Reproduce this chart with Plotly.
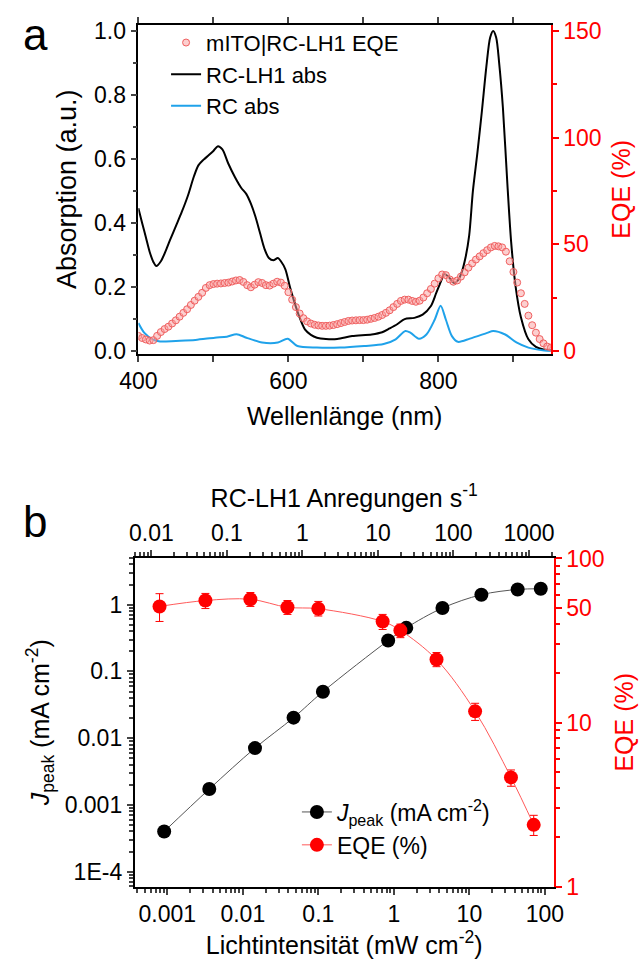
import plotly.graph_objects as go

# ---------------- Panel a data ----------------
abs_nm = [400, 405, 410, 415, 420, 424, 430, 436, 442, 450, 458, 466, 474, 480, 487, 494, 500, 506, 512,
          520, 529, 537, 544, 550, 556, 562, 568, 574, 580, 586, 590, 596, 602, 607, 614, 622, 630, 638,
          650, 665, 685, 711, 725, 735, 745, 755, 768, 779, 790, 797, 803, 808, 814, 821, 826, 831,
          836, 841, 846, 852, 858, 864, 869, 873, 877, 881, 886, 892, 897, 903, 910, 920, 930, 940, 950]
rclh1_abs = [0.446, 0.40, 0.355, 0.31, 0.278, 0.265, 0.28, 0.31, 0.345, 0.39, 0.435, 0.485, 0.545,
             0.58, 0.598, 0.612, 0.625, 0.64, 0.63, 0.585, 0.542, 0.51, 0.49, 0.46, 0.42, 0.37, 0.32,
             0.29, 0.283, 0.29, 0.28, 0.255, 0.20, 0.16, 0.11, 0.067, 0.05, 0.041, 0.037, 0.037,
             0.046, 0.051, 0.058, 0.07, 0.083, 0.099, 0.103, 0.113, 0.14, 0.18, 0.215, 0.24, 0.23,
             0.212, 0.22, 0.245, 0.29, 0.36, 0.50, 0.62, 0.75, 0.89, 0.98, 1.0, 0.98, 0.90, 0.76,
             0.52, 0.34, 0.20, 0.105, 0.036, 0.012, 0.004, 0.002]

rc_nm = [400, 408, 419, 429, 450, 476, 502, 518, 531, 544, 565, 586, 599, 612, 638, 669, 701, 727,
         743, 756, 763, 774, 784, 795, 803, 810, 818, 826, 842, 865, 873, 889, 904, 920, 941, 950]
rc_abs = [0.087, 0.056, 0.036, 0.029, 0.031, 0.034, 0.041, 0.044, 0.052, 0.041, 0.026, 0.026, 0.038,
          0.015, 0.010, 0.010, 0.015, 0.021, 0.036, 0.062, 0.056, 0.038, 0.051, 0.097, 0.141, 0.097,
          0.046, 0.028, 0.038, 0.056, 0.062, 0.051, 0.026, 0.010, 0.001, 0.0]

eqe_nm = [400, 405, 410, 415, 420, 425, 430, 435, 440, 445, 450, 455, 460, 465, 470, 475, 480, 485,
          490, 495, 500, 505, 510, 515, 520, 525, 530, 535, 540, 545, 550, 555, 560, 565, 570, 575,
          580, 585, 590, 595, 600, 605, 610, 615, 620, 625, 630, 635, 640, 645, 650, 655, 660, 665,
          670, 675, 680, 685, 690, 695, 700, 705, 710, 715, 720, 725, 730, 735, 740, 745, 750, 755,
          760, 765, 770, 775, 780, 785, 790, 795, 800, 805, 810, 815, 820, 825, 830, 835, 840, 845,
          850, 855, 860, 865, 870, 875, 880, 885, 890, 895, 900, 905, 910, 915, 920, 925, 930, 935,
          940, 945, 950]
eqe_spec = [7.0, 6.0, 5.3, 4.8, 5.0, 7.0, 8.8, 10.2, 11.3, 12.8, 14.3, 16.0, 17.8, 19.5, 21.5, 23.5,
            25.3, 27.2, 29.5, 30.8, 31.3, 31.5, 31.6, 31.8, 32.0, 32.5, 33.0, 33.2, 32.3, 30.8, 29.8,
            31.0, 32.2, 31.8, 30.8, 30.6, 31.5, 32.4, 32.0, 30.5, 27.5, 24.0, 20.5, 17.5, 15.3, 13.8,
            12.8, 12.2, 11.9, 11.7, 11.7, 11.8, 12.1, 12.5, 13.0, 13.5, 14.0, 14.2, 14.3, 14.4, 14.4,
            14.6, 15.0, 15.4, 16.0, 16.8, 17.8, 19.0, 20.5, 22.0, 23.4, 24.0, 24.0, 23.4, 23.0, 23.5,
            25.0, 27.0, 29.0, 31.5, 34.0, 35.8, 35.5, 33.5, 32.4, 33.0, 34.8, 36.8, 39.0, 41.0, 42.8,
            44.3, 45.8, 47.2, 48.5, 49.2, 49.0, 48.5, 46.5, 42.0, 37.0, 32.0, 27.0, 22.0, 16.5, 12.0,
            8.5, 5.5, 3.5, 2.0, 1.5]

# ---------------- Panel b data ----------------
intensity_j = [0.00091, 0.0036, 0.0145, 0.047, 0.115, 0.84, 1.46, 4.4, 14.4, 43.5, 88]
j_peak = [0.0004, 0.00173, 0.0071, 0.0203, 0.0497, 0.29, 0.45, 0.89, 1.41, 1.69, 1.73]
intensity_e = [0.00079, 0.0032, 0.0126, 0.039, 0.1, 0.71, 1.22, 3.67, 11.9, 35.5, 71]
eqe_b = [51, 55.4, 56.4, 50.4, 49.4, 41.3, 36.4, 24.2, 11.7, 4.63, 2.38]
eqe_b_hi = [61, 61.2, 62, 55.4, 54.7, 45.6, 39.8, 26.7, 13.1, 5.14, 2.72]
eqe_b_lo = [41.3, 49.5, 51, 45.6, 44.6, 36.9, 32.9, 21.9, 10.3, 4.09, 2.05]

x_bottom_ticks = [0.001, 0.01, 0.1, 1, 10, 100]
x_bottom_labels = ["0.001", "0.01", "0.1", "1", "10", "100"]
x_top_ticks = [0.01, 0.1, 1, 10, 100, 1000]
x_top_labels = ["0.01", "0.1", "1", "10", "100", "1000"]
y_left_ticks = [1e-4, 0.001, 0.01, 0.1, 1]
y_left_labels = ["1E-4", "0.001", "0.01", "0.1", "1"]
y_right_ticks = [1, 10, 50, 100]
y_right_labels = ["1", "10", "50", "100"]


def minor_log(lo, hi):
    vals = []
    for e in range(lo, hi + 1):
        for k in range(2, 10):
            vals.append(k * 10 ** e)
    return vals


FONT = "Liberation Sans, Arial, sans-serif"
RED = "#FF0000"
BLUE = "#1FA2EA"
W, H = 644, 974

fig = go.Figure()

# Panel a
fig.add_trace(go.Scatter(x=eqe_nm, y=eqe_spec, mode="markers", name="mITO|RC-LH1 EQE",
                         xaxis="x", yaxis="y2", legend="legend",
                         marker=dict(symbol="circle", size=7, color="rgba(250,160,160,0.5)",
                                     line=dict(color="#F06060", width=1))))
fig.add_trace(go.Scatter(x=abs_nm, y=rclh1_abs, mode="lines", name="RC-LH1 abs",
                         xaxis="x", yaxis="y", legend="legend",
                         line=dict(color="black", width=2, shape="spline", smoothing=0.8)))
fig.add_trace(go.Scatter(x=rc_nm, y=rc_abs, mode="lines", name="RC abs",
                         xaxis="x", yaxis="y", legend="legend",
                         line=dict(color=BLUE, width=2, shape="spline", smoothing=0.8)))

# Panel b
fig.add_trace(go.Scatter(x=intensity_j, y=j_peak, mode="lines+markers",
                         name="<i>J</i><sub>peak</sub> (mA cm<sup>-2</sup>)",
                         xaxis="x3", yaxis="y3", legend="legend2",
                         line=dict(color="#555555", width=1, shape="spline"),
                         marker=dict(color="black", size=14)))
fig.add_trace(go.Scatter(x=intensity_e, y=eqe_b, mode="lines+markers", name="EQE (%)",
                         xaxis="x3", yaxis="y4", legend="legend2",
                         line=dict(color="#FF5A5A", width=1, shape="spline"),
                         marker=dict(color=RED, size=14),
                         error_y=dict(type="data", symmetric=False,
                                      array=[h - v for h, v in zip(eqe_b_hi, eqe_b)],
                                      arrayminus=[v - l for v, l in zip(eqe_b, eqe_b_lo)],
                                      color=RED, thickness=1, width=4)))
# carrier for the top (excitation) axis
fig.add_trace(go.Scatter(x=[], y=[], xaxis="x4", yaxis="y3", showlegend=False, hoverinfo="skip"))

ax_common = dict(showline=True, linewidth=1.5, showgrid=False, zeroline=False,
                 ticks="outside", ticklen=6, tickwidth=1.5,
                 tickfont=dict(family=FONT, size=23, color="black"))

top_dom = [1 - 351 / H, 1 - 13 / H]
bot_dom = [1 - 898 / H, 1 - 560 / H]

fig.update_layout(
    width=W, height=H, margin=dict(l=0, r=0, t=0, b=0),
    paper_bgcolor="white", plot_bgcolor="white",
    font=dict(family=FONT, size=23, color="black"),
    xaxis=dict(**ax_common, domain=[125 / W, 557 / W], anchor="y", range=[400, 950],
               dtick=200, tick0=400, linecolor="black", mirror="ticks",
               minor=dict(dtick=100, tick0=400, ticks="outside", ticklen=6, tickwidth=1.5),
               title=dict(text="Wellenlänge (nm)", font=dict(size=25), standoff=14)),
    yaxis=dict(**ax_common, domain=top_dom, anchor="x", range=[-0.01, 1.02], dtick=0.2,
               tickformat=".1f", linecolor="black",
               minor=dict(dtick=0.1, ticks="outside", ticklen=4, tickwidth=1.5),
               title=dict(text="Absorption (a.u.)", font=dict(size=27), standoff=10)),
    yaxis2=dict(**{**ax_common, "tickfont": dict(family=FONT, size=23, color=RED)},
                overlaying="y", side="right", anchor="x", range=[-1.5, 153], dtick=50,
                linecolor=RED, tickcolor=RED,
                minor=dict(dtick=25, ticks="outside", ticklen=4, tickwidth=1.5, tickcolor=RED),
                title=dict(text="EQE (%)", font=dict(size=25, color=RED), standoff=12)),
    xaxis3=dict(**ax_common, domain=[121 / W, 560 / W], anchor="y3", type="log",
                range=[-3.433, 2.117], tickmode="array", tickvals=x_bottom_ticks,
                ticktext=x_bottom_labels, linecolor="black",
                minor=dict(tickmode="array", tickvals=minor_log(-4, 2), ticks="outside",
                           ticklen=4, tickwidth=1.5),
                title=dict(text="Lichtintensität (mW cm<sup>-2</sup>)", font=dict(size=25),
                           standoff=10)),
    xaxis4=dict(**ax_common, overlaying="x3", side="top", anchor="y3", type="log",
                range=[-2.222, 3.328], tickmode="array", tickvals=x_top_ticks,
                ticktext=x_top_labels, linecolor="black",
                minor=dict(tickmode="array", tickvals=minor_log(-3, 3), ticks="outside",
                           ticklen=4, tickwidth=1.5),
                title=dict(text="RC-LH1 Anregungen s<sup>-1</sup>", font=dict(size=25),
                           standoff=5)),
    yaxis3=dict(**ax_common, domain=bot_dom, anchor="x3", type="log", range=[-4.229, 0.705],
                tickmode="array", tickvals=y_left_ticks, ticktext=y_left_labels,
                linecolor="black",
                minor=dict(tickmode="array", tickvals=minor_log(-5, 0), ticks="outside",
                           ticklen=4, tickwidth=1.5),
                title=dict(text="<i>J</i><sub>peak</sub> (mA cm<sup>-2</sup>)",
                           font=dict(size=25), standoff=8)),
    yaxis4=dict(**{**ax_common, "tickfont": dict(family=FONT, size=23, color=RED)},
                overlaying="y3", side="right", anchor="x3", type="log", range=[-0.002, 2.005],
                tickmode="array", tickvals=y_right_ticks, ticktext=y_right_labels,
                linecolor=RED, tickcolor=RED,
                minor=dict(tickmode="array", tickvals=minor_log(0, 1), ticks="outside",
                           ticklen=4, tickwidth=1.5, tickcolor=RED),
                title=dict(text="EQE (%)", font=dict(size=25, color=RED), standoff=12)),
    legend=dict(x=154 / W, y=1 - 10 / H, xanchor="left", yanchor="top",
                bgcolor="rgba(0,0,0,0)", font=dict(family=FONT, size=22), tracegroupgap=0),
    legend2=dict(x=291 / W, y=1 - 799 / H, xanchor="left", yanchor="top",
                 bgcolor="rgba(0,0,0,0)", font=dict(family=FONT, size=23), tracegroupgap=0),
    annotations=[
        dict(text="a", x=2 / W, y=1 + 4 / H, xref="paper", yref="paper", xanchor="left",
             yanchor="top", showarrow=False, font=dict(family=FONT, size=44, color="black")),
        dict(text="b", x=2 / W, y=1 - 496 / H, xref="paper", yref="paper", xanchor="left",
             yanchor="top", showarrow=False, font=dict(family=FONT, size=44, color="black")),
    ],
)

fig.write_html("out.html")
